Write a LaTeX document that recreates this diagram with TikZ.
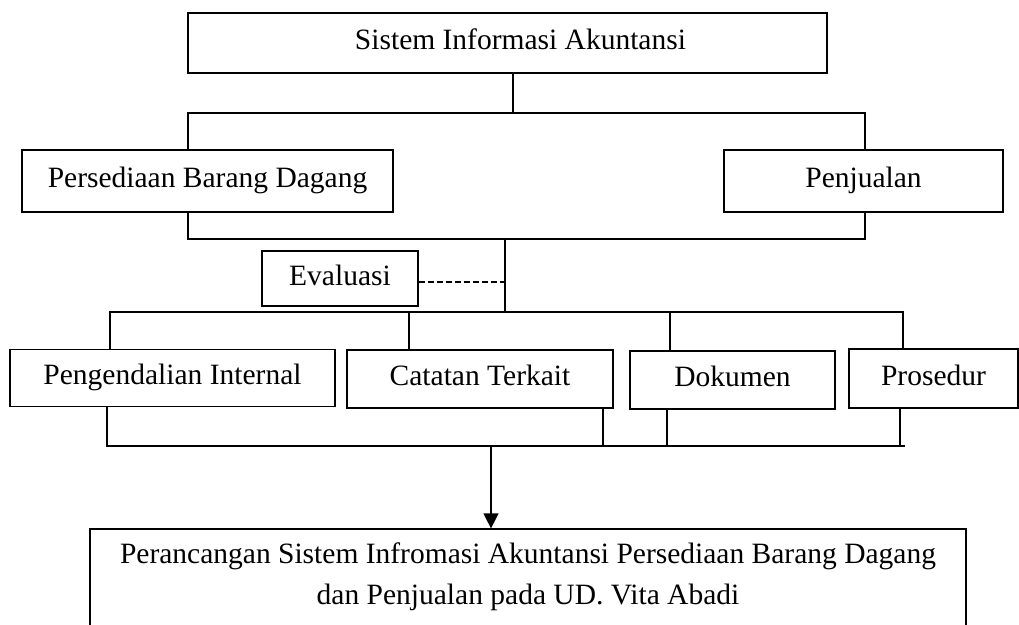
\documentclass[tikz,border=0pt]{standalone}
\usepackage{fontspec}
\setmainfont{Liberation Serif}
\usetikzlibrary{arrows.meta}
\begin{document}
\begin{tikzpicture}[x=1pt,y=-1pt,
  box/.style={draw,line width=1.2pt,inner sep=0pt,align=center,
    font=\fontsize{29.5}{41}\selectfont},
  one/.style={text height=20pt,text depth=6.5pt},
  conn/.style={line width=1.2pt},
  dashline/.style={line width=2pt,dash pattern=on 6pt off 3pt}]
\useasboundingbox (0,0) rectangle (1019,624);
% nodes
\node[box,one,minimum width=639pt,minimum height=60pt] (sia) at (507.5,43) {\hspace*{26pt}Sistem Informasi Akuntansi};
\node[box,one,minimum width=371pt,minimum height=62pt] (pbd) at (207.5,181) {Persediaan Barang Dagang};
\node[box,one,minimum width=279pt,minimum height=62pt] (pen) at (863.5,181) {Penjualan};
\node[box,one,minimum width=156pt,minimum height=55pt] (eva) at (340,278.5) {Evaluasi};
\node[box,one,minimum width=325pt,minimum height=57pt] (pi) at (172.5,378) {Pengendalian Internal};
\node[box,one,minimum width=266pt,minimum height=58pt] (ct) at (480,379) {Catatan Terkait};
\node[box,one,minimum width=205pt,minimum height=58pt] (dok) at (732.5,380) {Dokumen};
\node[box,one,minimum width=169pt,minimum height=59pt] (pro) at (933.5,378.5) {Prosedur};
\node[box,minimum width=876pt,minimum height=120pt] (bot) at (528,589)
  {Perancangan Sistem Infromasi Akuntansi Persediaan Barang Dagang\\dan Penjualan pada UD. Vita Abadi\rule[-30pt]{0pt}{30pt}};
% junction coordinates
\coordinate (j1) at (513,113);
\coordinate (b1L) at (188,113);
\coordinate (b1R) at (865,113);
\coordinate (b2L) at (188,239);
\coordinate (b2R) at (865,239);
\coordinate (b2M) at (505,239);
\coordinate (b3M) at (505,312);
\coordinate (c1) at (110,312);
\coordinate (c2) at (409,312);
\coordinate (c3) at (670,312);
\coordinate (c4) at (903,312);
\coordinate (d1) at (107,446);
\coordinate (d2) at (603,446);
\coordinate (d3) at (667,446);
\coordinate (d4) at (900,446);
\coordinate (dR) at (905,446);
\coordinate (dA) at (491,446);
% connectors
\draw[conn] (j1 |- sia.south) -- (j1);
\draw[conn] (b1L |- pbd.north) -- (b1L) -- (b1R) -- (b1R |- pen.north);
\draw[conn] (b1L |- pbd.south) -- (b2L) -- (b2R) -- (b1R |- pen.south);
\draw[conn] (b2M) -- (b3M);
\draw[dashline] ([yshift=-3.5pt]eva.east) -- ([yshift=-3.5pt]eva.east -| b2M);
\draw[conn] (c1 |- pi.north) -- (c1) -- (c4) -- (c4 |- pro.north);
\draw[conn] (c2) -- (c2 |- ct.north);
\draw[conn] (c3) -- (c3 |- dok.north);
\draw[conn] (d1 |- pi.south) -- (d1) -- (dR);
\draw[conn] (d2 |- ct.south) -- (d2);
\draw[conn] (d3 |- dok.south) -- (d3);
\draw[conn] (d4 |- pro.south) -- (d4);
\draw[conn,-{Triangle[length=15pt,width=15pt]}] (dA) -- (dA |- bot.north);
\end{tikzpicture}
\end{document}
